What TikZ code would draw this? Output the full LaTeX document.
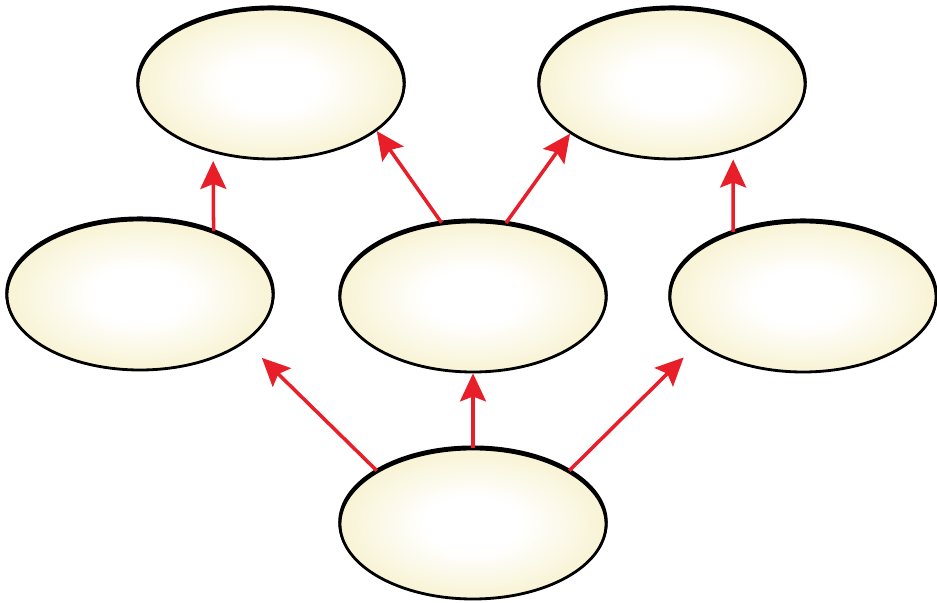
\documentclass[tikz,border=0pt]{standalone}
\usetikzlibrary{shapes.geometric,arrows.meta}
\definecolor{coquille}{RGB}{248,243,212}
\definecolor{rouge}{RGB}{232,30,40}
\pgfdeclareradialshading{oeuf}{\pgfpoint{0bp}{0bp}}{%
  color(0bp)=(white); color(9bp)=(white); color(25bp)=(coquille); color(50bp)=(coquille)}
\begin{document}
\begin{tikzpicture}[
    bulle/.style={ellipse, minimum width=5.32cm, minimum height=3.0cm, inner sep=0pt,
        shading=oeuf, draw=black, line width=1.6pt,
        preaction={draw=black, line width=2pt, transform canvas={yshift=1pt}}},
    fleche/.style={rouge, line width=2pt, -{Stealth[length=0.56cm, width=0.52cm, inset=0.1cm]}}
  ]
  \useasboundingbox (0,0) rectangle (18.74,12.04);

  % Niveau haut
  \node[bulle] (H1) at (5.42, 10.36) {};
  \node[bulle] (H2) at (13.44, 10.36) {};

  % Niveau milieu
  \node[bulle] (M1) at (2.80, 6.14) {};
  \node[bulle] (M2) at (9.46, 6.10) {};
  \node[bulle] (M3) at (16.06, 6.10) {};

  % Niveau bas
  \node[bulle] (B) at (9.46, 1.56) {};

  % Fleches
  \draw[fleche, shorten >=0.45cm] (B.151) -- (M1.-24);
  \draw[fleche] (B.90) -- (M2.-90);
  \draw[fleche, shorten >=0.38cm] (B.29) -- (M3.-156);
  \draw[fleche, shorten >=0.16cm] (M1.41) -- (H1.-130);
  \draw[fleche] (M2.113) -- (H1.-24);
  \draw[fleche] (M2.66) -- (H2.-154);
  \draw[fleche, shorten >=0.15cm] (M3.137) -- (H2.-48);
\end{tikzpicture}
\end{document}
